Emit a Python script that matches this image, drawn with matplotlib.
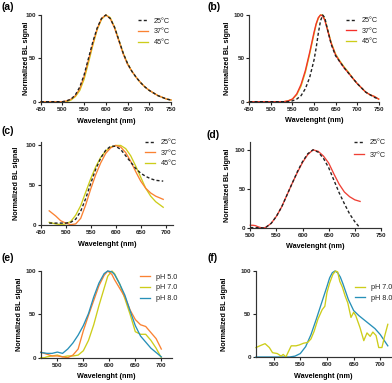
import matplotlib
matplotlib.use('Agg')
from matplotlib import pyplot as plt

plt.rcParams['font.family'] = ['Liberation Sans', 'DejaVu Sans']

# ---- data ----
# (a)
wl_a = [450, 460, 470, 480, 490, 500, 510, 520, 530, 540, 550, 560, 570, 580, 590, 600,
        610, 620, 630, 640, 650, 660, 670, 680, 690, 700, 710, 720, 730, 740, 750]
a_25 = [0, 0, 0, 0, 0, 0, 1, 3, 8, 17, 31, 50, 69, 85, 96, 100,
        96, 86, 71, 56, 44, 35, 28, 22, 17, 13, 10, 7, 5, 3, 2]
a_37 = [0, 0, 0, 0, 0, 0, 1, 3, 7, 15, 29, 48, 67, 84, 96, 100,
        96, 85, 70, 55, 43, 35, 28, 22, 17, 13, 10, 7, 5, 3, 2]
a_45 = [0, 0, 0, 0, 0, 0, 0, 2, 6, 13, 26, 45, 65, 83, 95, 100,
        97, 86, 71, 56, 44, 35, 28, 22, 17, 13, 10, 7, 5, 3, 2]

# (b)
wl_b = [450, 500, 530, 540, 550, 560, 570, 580, 590, 600, 605, 610, 615, 620, 625, 630,
        640, 650, 660, 670, 680, 690, 700, 710, 720, 730, 740, 750]
b_25 = [0, 0, 0, 0, 1, 3, 7, 15, 28, 48, 62, 79, 93, 100, 97, 86,
        66, 53, 46, 39, 33, 27, 21, 16, 11, 8, 5, 3]
b_37 = [0, 0, 0, 1, 3, 9, 20, 36, 57, 80, 90, 97, 100, 99, 94, 85,
        67, 54, 46, 39, 33, 27, 21, 16, 11, 8, 6, 3]
b_45 = [0, 0, 0, 1, 3, 8, 18, 34, 55, 78, 89, 96, 100, 100, 95, 86,
        68, 55, 47, 40, 34, 27, 21, 16, 11, 8, 6, 3]

# (c)
wl_c = [467, 480, 490, 500, 510, 520, 530, 540, 550, 560, 570, 580, 590, 600,
        610, 620, 630, 640, 650, 660, 670, 680, 695]
c_25 = [2, 2, 2, 2, 3, 7, 17, 33, 52, 70, 84, 94, 99, 99,
        95, 87, 79, 71, 65, 61, 58, 56, 55]
c_37 = [17.5, 11, 5, 2, 0, 1, 8, 25, 45, 63, 78, 90, 97, 100,
        98, 91, 80, 67, 55, 46, 40, 36, 32]
c_45 = [3, 1, 0, 1, 4, 12, 24, 41, 58, 73, 85, 93, 98, 100,
        100, 96, 87, 74, 60, 46, 36, 29, 22]

# (d)
wl_d = [500, 505, 510, 515, 520, 525, 530, 540, 550, 560, 570, 580, 590, 600,
        610, 620, 630, 640, 650, 660, 670, 680, 690, 700, 710]
d_25 = [0.5, 0.5, 0.5, 0.5, 0.3, 0, 1, 6, 15, 27, 42, 57, 72, 85,
        95, 100, 97, 89, 77, 61, 45, 31, 18, 8, 0]
d_37 = [3.5, 3.5, 3, 1.5, 0.5, 0, 1, 6, 15, 27, 42, 57, 71, 84,
        94, 100, 98, 92, 83, 69, 56, 46, 40, 36, 34]

# (e)
wl_e = [468, 475, 480, 490, 500, 510, 520, 530, 540, 550, 560, 570, 580, 590, 597,
        605, 610, 620, 630, 640, 650, 660, 670, 680, 690, 700]
e_ph5 = [6.5, 5, 4, 2, 2, 1, 0, 3, 10, 31, 49, 66, 83, 95, 100,
         96, 90, 80, 70, 55, 44, 38, 36, 29, 22, 10]
e_ph7 = [0, 0, 1, 2, 3, 1, 2, 2, 3, 8, 20, 38, 60, 80, 94,
         100, 97, 85, 68, 50, 30, 27, 27, 20, 11, 0]
e_ph8 = [6, 5.5, 5, 5, 6.5, 5, 10, 17, 26, 37, 51, 70, 86, 97, 100,
         99, 96, 85, 72, 54, 37, 25, 18, 11, 6, 1]

# (f)
wl_f7 = [467, 476, 484, 492, 498, 507, 514, 518, 523, 533, 542, 548, 556, 564, 570,
         576, 583, 591, 596, 600, 605, 611, 616, 620, 624, 629, 634, 639, 645, 650,
         654, 662, 669, 675, 681, 686, 692, 697, 703, 708, 714]
f_ph7 = [11, 13.5, 15.5, 11, 5, 4, 1, 3, 0, 13, 13, 14, 16, 17, 21,
         30, 44, 55, 59, 75, 86, 96, 100, 99, 88, 81, 71, 63, 46, 52,
         48, 34, 19, 28, 24, 29, 25, 11, 11, 24, 38]
wl_f8 = [467, 500, 530, 540, 550, 560, 570, 580, 590, 600, 605, 610, 615, 620, 625,
         630, 640, 650, 660, 670, 680, 690, 700, 714]
f_ph8 = [0, 0, 0, 1, 4, 12, 26, 44, 63, 82, 92, 98, 100, 98, 93,
         85, 67, 54, 48, 43, 38, 33, 26, 13]

DASH = '#222222'
ORANGE = '#FA8232'
YELLOW = '#CDCD1A'
RED_B = '#F5302A'
RED_D = '#EF4035'
BLUE = '#2790B8'

W, H = 392, 383
fig = plt.figure(figsize=(W / 100, H / 100), dpi=100)


def make_panel(box, xlim, ylim, xticks, xlab_top, ylab_right):
    # box is (left, right, top, bottom) in figure pixels
    left, right, top, bottom = box
    ax = fig.add_axes([left / W, 1 - bottom / H, (right - left) / W, (bottom - top) / H])
    ax.set_xlim(*xlim)
    ax.set_ylim(*ylim)
    ax.set_xticks(xticks)
    ax.set_yticks([0, 50, 100])
    for s in ['top', 'right']:
        ax.spines[s].set_visible(False)
    for s in ['left', 'bottom']:
        ax.spines[s].set_linewidth(0.85)
        ax.spines[s].set_color('#333333')
    ax.tick_params(direction='out', length=2.3, width=0.8, pad=1.2,
                   labelsize=4.5, colors='#222222')
    for lab in ax.get_xticklabels() + ax.get_yticklabels():
        lab.set_fontweight('bold')
    ax.set_xlabel('Wavelenght (nm)', fontsize=5.2, fontweight='bold', va='top')
    ax.set_ylabel('Normalized BL signal', fontsize=5.2, fontweight='bold')
    ax.xaxis.set_label_coords(0.5, -(xlab_top - bottom) / (bottom - top))
    ax.yaxis.set_label_coords((ylab_right - left) / (right - left), 0.5)
    return ax


def add_legend(ax, handles, labels, x_px, y_px, spacing=0.5):
    ax.legend(handles, labels, loc='upper left',
              bbox_to_anchor=(x_px / W, 1 - (y_px - 4) / H),
              bbox_transform=fig.transFigure, frameon=False, borderpad=0,
              borderaxespad=0, handlelength=1.4, handletextpad=0.8,
              labelspacing=spacing, fontsize=5.2, labelcolor='#222222')


def dashed(ax, x, y):
    return ax.plot(x, y, color=DASH, lw=1.0, linestyle=(0, (2.2, 1.6)),
                   clip_on=False, zorder=4)[0]


def solid(ax, x, y, color):
    return ax.plot(x, y, color=color, lw=0.95, clip_on=False)[0]


# (a)
ax = make_panel((40.7, 171, 15, 101.7), (450, 750), (0, 100), range(450, 751, 50), 118, 30)
l45 = solid(ax, wl_a, a_45, YELLOW)
l37 = solid(ax, wl_a, a_37, ORANGE)
l25 = dashed(ax, wl_a, a_25)
add_legend(ax, [l25, l37, l45], ['25°C', '37°C', '45°C'], 138, 21.7)

# (b)
ax = make_panel((249.3, 378.7, 15, 101.7), (450, 750), (0, 100), range(450, 751, 50), 117, 231)
l25 = dashed(ax, wl_b, b_25)
l45 = solid(ax, wl_b, b_45, YELLOW)
l37 = solid(ax, wl_b, b_37, RED_B)
add_legend(ax, [l25, l37, l45], ['25°C', '37°C', '45°C'], 346, 21)

# (c)
ax = make_panel((40.7, 173.2, 141.5, 224.7), (450, 715), (0, 105), range(450, 701, 50), 241, 20)
l45 = solid(ax, wl_c, c_45, YELLOW)
l37 = solid(ax, wl_c, c_37, ORANGE)
l25 = dashed(ax, wl_c, c_25)
add_legend(ax, [l25, l37, l45], ['25°C', '37°C', '45°C'], 145, 143)

# (d)
ax = make_panel((250.3, 381, 142, 228), (500, 750), (0, 110), range(500, 751, 50), 243, 231)
l37 = solid(ax, wl_d, d_37, RED_D)
l25 = dashed(ax, wl_d, d_25)
add_legend(ax, [l25, l37], ['25°C', '37°C'], 354, 143, spacing=0.75)

# (e)
ax = make_panel((40.7, 171.7, 271, 357.7), (468, 720), (0, 100), range(500, 701, 50), 373, 23)
l7 = solid(ax, wl_e, e_ph7, YELLOW)
l5 = solid(ax, wl_e, e_ph5, ORANGE)
l8 = solid(ax, wl_e, e_ph8, BLUE)
add_legend(ax, [l5, l7, l8], ['pH 5.0', 'pH 7.0', 'pH 8.0'], 140, 277.7)

# (f)
ax = make_panel((256, 391, 271, 357), (467, 720), (0, 100), range(500, 701, 50), 373, 228)
l8 = solid(ax, wl_f8, f_ph8, BLUE)
l7 = solid(ax, wl_f7, f_ph7, YELLOW)
add_legend(ax, [l7, l8], ['pH 7.0', 'pH 8.0'], 355, 288)

# panel letters
for txt, x, y in [('(a)', 2, 2), ('(b)', 208, 2), ('(c)', 2, 126),
                  ('(d)', 207, 130), ('(e)', 2, 253), ('(f)', 208, 253)]:
    fig.text(x / W, 1 - y / H, txt, ha='left', va='top', fontsize=7.5,
             fontweight='bold')

fig.savefig('out.png', dpi=100)
